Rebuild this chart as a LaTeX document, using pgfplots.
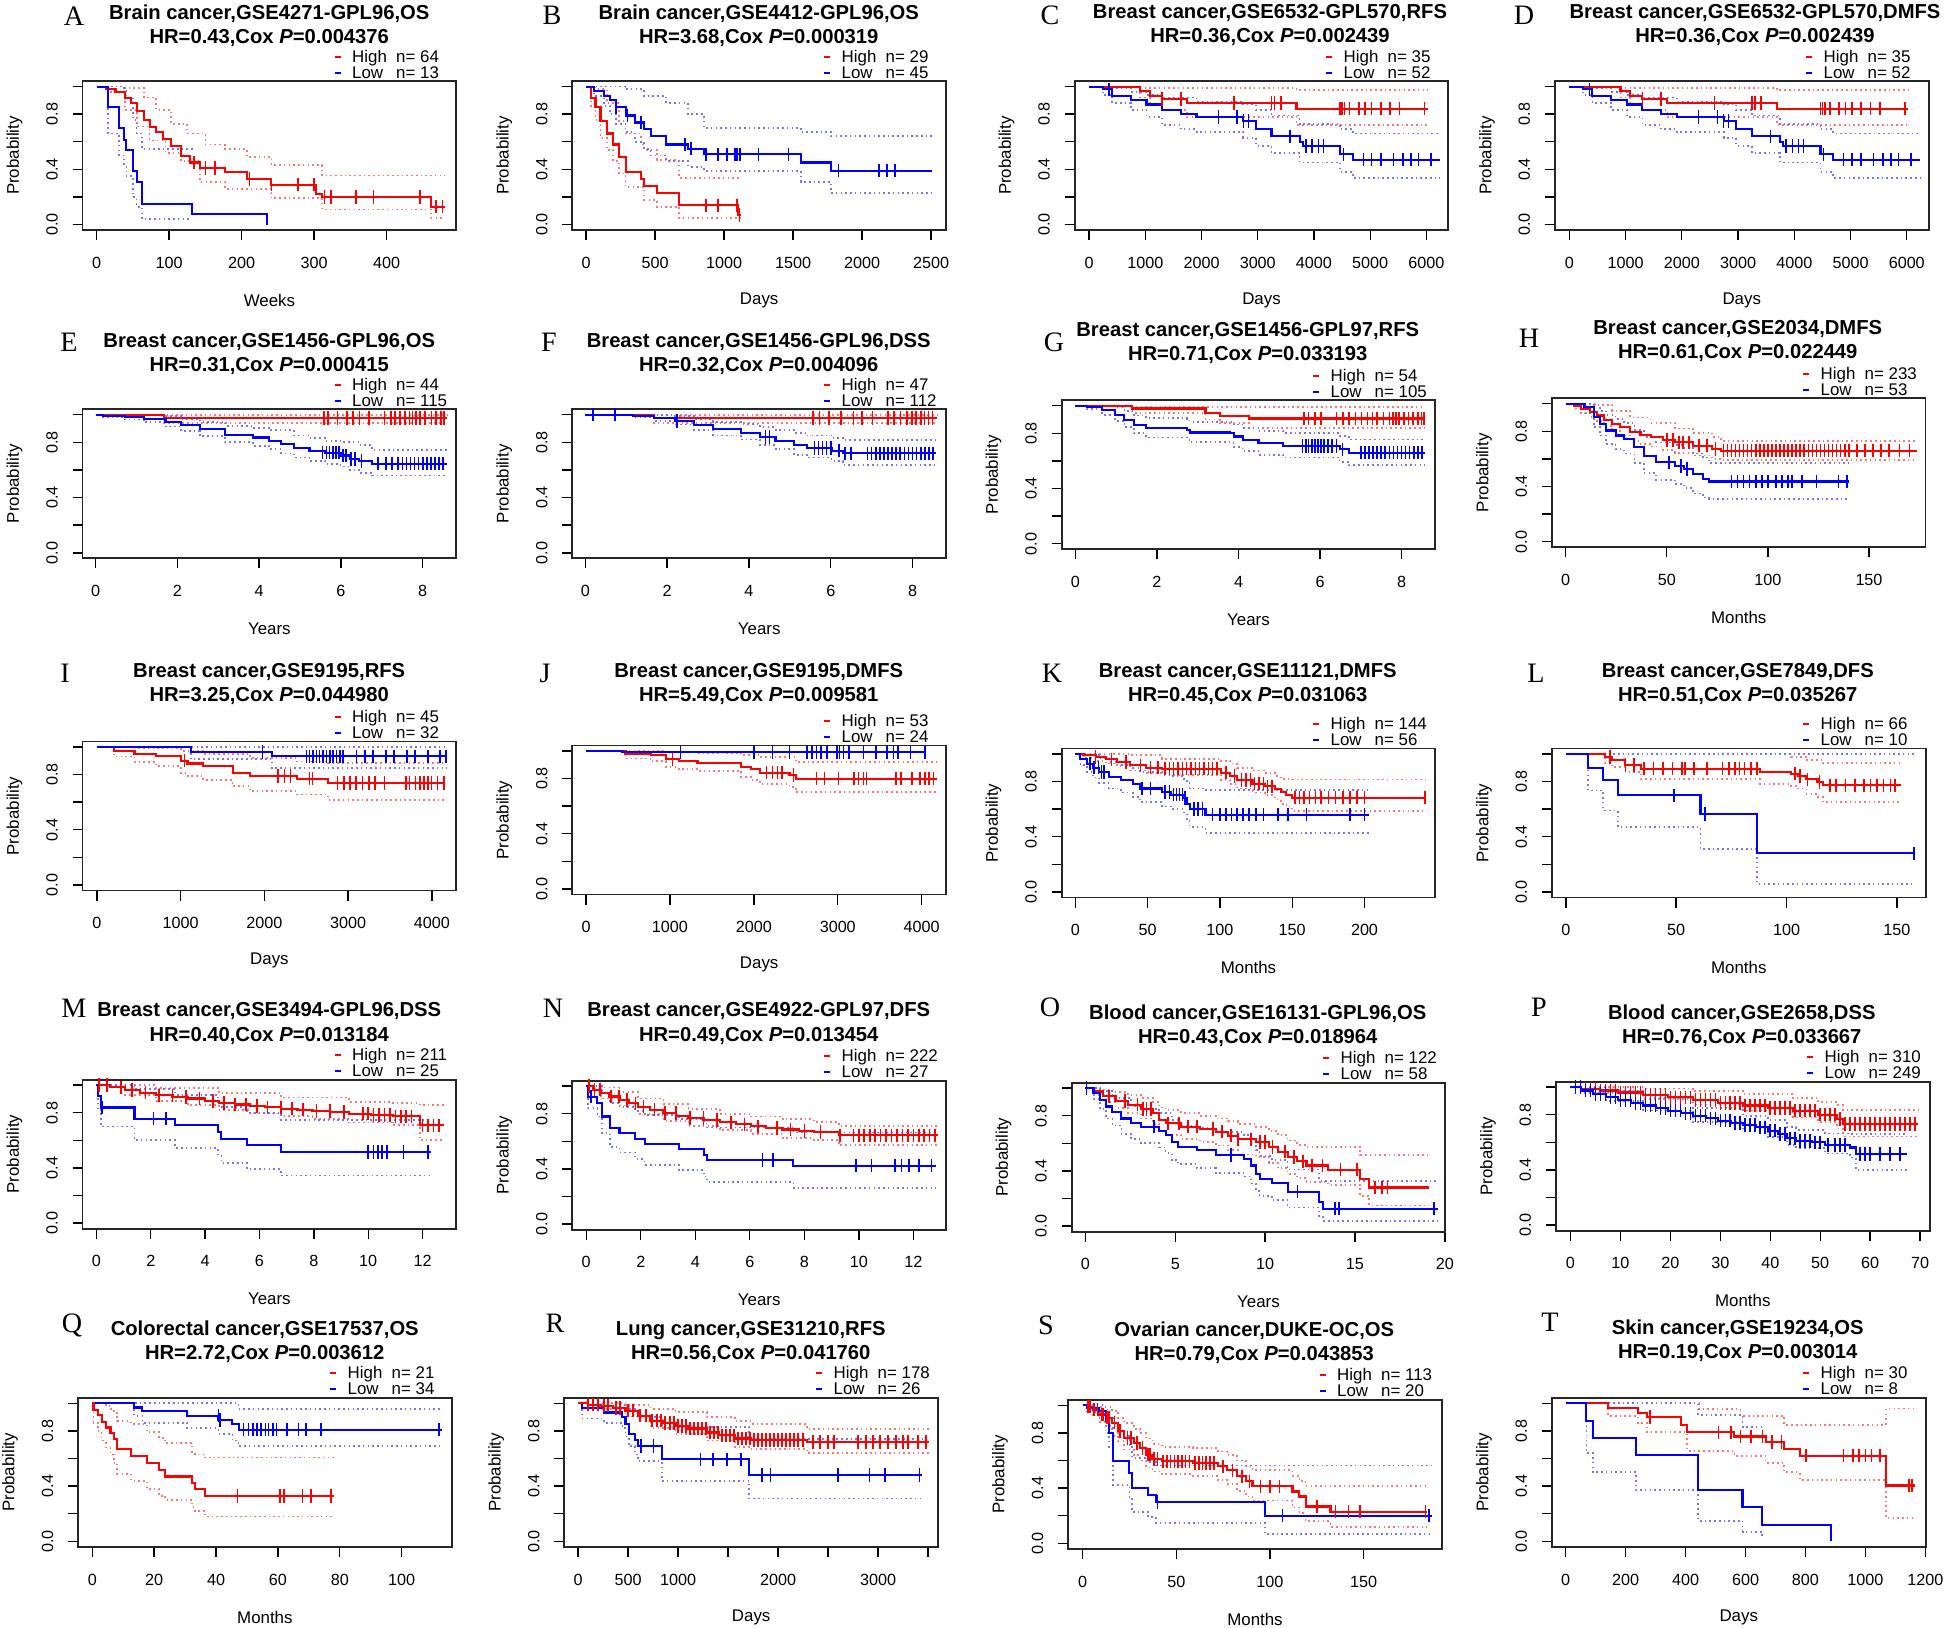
\documentclass[border=0pt]{standalone}
\usepackage{fontspec}
\setmainfont{Liberation Sans}
\newfontfamily\letterfont{Liberation Serif}
\usepackage{pgfplots}
\pgfplotsset{compat=1.18}

\newcommand{\fs}[1]{\fontsize{#1}{#1}\selectfont}
\newcommand{\tf}{\fs{5.75}\bfseries}
\newcommand{\lgf}{\fs{4.8}}
\newcommand{\lef}{\letterfont\fs{8}}

\pgfplotsset{
  /pgf/number format/assume math mode=true,
  /pgf/number format/1000 sep={},
  km/.style={
    scale only axis, width=3.735cm, height=1.49cm, anchor=north west,
    ymin=-0.04, ymax=1.04,
    ytick={0,0.2,0.4,0.6,0.8,1}, yticklabels={0.0,,0.4,,0.8,},
    tick pos=left, tick align=outside, major tick length=0.1cm,
    every tick/.style={black, line width=0.4pt},
    axis line style={line width=0.5pt, black!85},
    scaled x ticks=false,
    tick label style={font=\fs{4.6}},
    xticklabel style={inner ysep=4.6pt},
    yticklabel style={rotate=90, anchor=south, inner ysep=4pt},
    ylabel={Probability},
    xlabel style={at={(axis description cs:0.5,-0.47)}, anchor=center, font=\fs{4.8}},
    ylabel style={at={(axis description cs:-0.182,0.5)}, anchor=center, font=\fs{4.8}},
  },
  hr/.style={red, line width=0.6pt, const plot, mark=none},
  lb/.style={blue, line width=0.6pt, const plot, mark=none},
  hrc/.style={red!55, line width=0.5pt, dash pattern=on 0.45pt off 0.9pt, const plot, mark=none},
  lbc/.style={blue!55, line width=0.5pt, dash pattern=on 0.45pt off 0.9pt, const plot, mark=none},
  hrm/.style={red, only marks, mark=|, mark size=1.9pt, mark options={line width=0.45pt}},
  lbm/.style={blue, only marks, mark=|, mark size=1.9pt, mark options={line width=0.45pt}},
}

% title lines, centred on the box
\newcommand{\ttl}[4]{%
  \node[anchor=base, inner sep=0, font=\tf] at (#1,{#2+7}) {#3};
  \node[anchor=base, inner sep=0, font=\tf] at (#1,{#2+31}) {#4};}
% legend above the box, right side
\newcommand{\lgd}[4]{%
  \draw[red, line width=0.6pt] ({#1+252},{#2-24}) -- ++(6,0);
  \draw[blue, line width=0.6pt] ({#1+252},{#2-8}) -- ++(6,0);
  \node[anchor=base west, inner sep=0, font=\lgf] at ({#1+269},{#2-18.5}) {High};
  \node[anchor=base west, inner sep=0, font=\lgf] at ({#1+313},{#2-18.5}) {n= #3};
  \node[anchor=base west, inner sep=0, font=\lgf] at ({#1+269},{#2-2.5}) {Low};
  \node[anchor=base west, inner sep=0, font=\lgf] at ({#1+313},{#2-2.5}) {n= #4};}
\newcommand{\lab}[3]{\node[inner sep=0, font=\lef] at (#1,#2) {#3};}

\begin{document}
\begin{tikzpicture}[x=0.01cm, y=-0.01cm]
\path[use as bounding box] (0,0) rectangle (1960,1628);

%% A
\begin{axis}[km, at={(0.825cm,-0.81cm)}, xmin=-19.5, xmax=496, xtick={0,100,200,300,400}, xlabel={Weeks}]
\addplot[hrc] coordinates {(0,1)(39,0.99)(65,0.92)(82,0.83)(103,0.73)(125,0.66)(150,0.58)(177,0.55)(207,0.49)(241,0.43)(311,0.355)(480,0.355)};
\addplot[hrc] coordinates {(0,1)(17,0.96)(39,0.83)(56,0.71)(73,0.61)(95,0.52)(116,0.46)(142,0.31)(177,0.26)(241,0.19)(311,0.11)(461,0.05)(480,0.05)};
\addplot[lbc] coordinates {(0,1)(38,0.97)(41,0.92)(50,0.76)(55,0.66)(62,0.55)(134,0.55)};
\addplot[lbc] coordinates {(0,1)(16,0.66)(31,0.50)(38,0.42)(41,0.35)(50,0.20)(55,0.13)(62,0.04)(131,0.04)};
\addplot[hr] coordinates {(0,1)(13,0.98)(26,0.96)(39,0.92)(47,0.88)(56,0.82)(65,0.76)(73,0.71)(82,0.67)(92,0.62)(103,0.57)(116,0.50)(129,0.45)(142,0.41)(177,0.38)(207,0.33)(241,0.29)(302,0.22)(311,0.20)(461,0.13)(480,0.13)};
\addplot[lb] coordinates {(0,1)(16,0.85)(31,0.70)(38,0.61)(41,0.54)(50,0.39)(55,0.31)(62,0.15)(131,0.08)(235,0)};
\addplot[hrm] coordinates {(134,0.45)(150,0.41)(163,0.41)(211,0.33)(241,0.29)(278,0.29)(300,0.29)(314,0.20)(323,0.20)(358,0.20)(382,0.20)(446,0.20)(468,0.13)(477,0.13)};
\end{axis}
\lab{74}{16}{A}\ttl{269.25}{13}{Brain cancer,GSE4271-GPL96,OS}{HR=0.43,Cox \textit{P}=0.004376}\lgd{82.5}{81}{64}{13}

%% B
\begin{axis}[km, at={(5.72cm,-0.81cm)}, xmin=-100, xmax=2609, xtick={0,500,1000,1500,2000,2500}, xlabel={Days}]
\addplot[hrc] coordinates {(0,1)(68,0.98)(150,0.88)(240,0.75)(286,0.66)(399,0.58)(422,0.54)(513,0.47)(672,0.34)(1125,0.34)};
\addplot[hrc] coordinates {(0,1)(36,0.85)(68,0.76)(104,0.63)(150,0.54)(195,0.46)(240,0.37)(286,0.27)(422,0.18)(513,0.13)(672,0.05)(1125,0.05)};
\addplot[lbc] coordinates {(0,1)(286,0.98)(422,0.93)(581,0.88)(740,0.80)(853,0.70)(1556,0.67)(1774,0.64)(2510,0.64)};
\addplot[lbc] coordinates {(0,1)(59,0.93)(127,0.86)(172,0.80)(218,0.73)(286,0.67)(354,0.60)(422,0.55)(467,0.50)(581,0.46)(740,0.42)(853,0.39)(1556,0.31)(1774,0.23)(2510,0.23)};
\addplot[hr] coordinates {(0,1)(36,0.92)(68,0.85)(104,0.75)(150,0.66)(195,0.58)(240,0.49)(286,0.38)(399,0.33)(422,0.28)(513,0.23)(672,0.14)(1103,0.07)(1125,0.07)};
\addplot[lb] coordinates {(0,1)(59,0.97)(127,0.93)(172,0.90)(218,0.85)(286,0.79)(354,0.74)(422,0.69)(467,0.64)(581,0.58)(740,0.55)(853,0.51)(1556,0.45)(1774,0.39)(2510,0.39)};
\addplot[hrm] coordinates {(867,0.14)(957,0.14)(1093,0.14)(1112,0.07)};
\addplot[lbm] coordinates {(218,0.85)(299,0.79)(399,0.74)(717,0.58)(762,0.55)(867,0.51)(957,0.51)(1021,0.51)(1080,0.51)(1093,0.51)(1116,0.51)(1248,0.51)(1466,0.51)(1829,0.39)(2123,0.39)(2182,0.39)(2237,0.39)};
\end{axis}
\lab{552}{15}{B}\ttl{758.75}{13}{Brain cancer,GSE4412-GPL96,OS}{HR=3.68,Cox \textit{P}=0.000319}\lgd{572}{81}{29}{45}

%% C
\begin{axis}[km, at={(10.74cm,-0.81cm)}, xmin=-256, xmax=6389, xtick={0,1000,...,6000}, xlabel={Days}]
\addplot[hrc] coordinates {(0,1)(911,0.99)(3689,0.975)(6022,0.975)};
\addplot[hrc] coordinates {(0,1)(911,0.92)(1078,0.87)(1300,0.83)(1744,0.78)(3689,0.72)(6022,0.72)};
\addplot[lbc] coordinates {(0,1)(411,0.99)(744,0.96)(1022,0.94)(1300,0.92)(1911,0.89)(2744,0.87)(2967,0.83)(3244,0.79)(3744,0.73)(4467,0.69)(4689,0.66)(6244,0.66)};
\addplot[lbc] coordinates {(0,1)(244,0.94)(411,0.88)(744,0.83)(1022,0.78)(1300,0.72)(1633,0.69)(1911,0.67)(2744,0.63)(2967,0.57)(3244,0.52)(3744,0.45)(4467,0.38)(4689,0.34)(6244,0.34)};
\addplot[hr] coordinates {(0,1)(911,0.97)(1078,0.93)(1300,0.91)(1744,0.88)(3689,0.84)(6022,0.84)};
\addplot[lb] coordinates {(0,1)(244,0.98)(411,0.93)(744,0.90)(1022,0.87)(1300,0.83)(1633,0.80)(1911,0.78)(2744,0.75)(2967,0.69)(3244,0.64)(3744,0.60)(3800,0.57)(4467,0.51)(4689,0.47)(6244,0.47)};
\addplot[hrm] coordinates {(1300,0.91)(1633,0.91)(2578,0.88)(3244,0.88)(3300,0.88)(3411,0.88)(4467,0.84)(4500,0.84)(4544,0.84)(4633,0.84)(4800,0.84)(4911,0.84)(5022,0.84)(5189,0.84)(5356,0.84)(5522,0.84)(5967,0.84)};
\addplot[lbm] coordinates {(356,0.98)(2300,0.78)(2633,0.78)(2744,0.75)(2833,0.75)(3578,0.64)(3856,0.57)(3967,0.57)(4078,0.57)(4167,0.57)(4522,0.51)(4878,0.47)(5022,0.47)(5189,0.47)(5411,0.47)(5578,0.47)(5722,0.47)(5856,0.47)(6078,0.47)};
\end{axis}
\lab{1050}{15}{C}\ttl{1270}{12}{Breast cancer,GSE6532-GPL570,RFS}{HR=0.36,Cox \textit{P}=0.002439}\lgd{1074}{81}{35}{52}

%% D
\begin{axis}[km, at={(15.54cm,-0.81cm)}, xmin=-256, xmax=6389, xtick={0,1000,...,6000}, xlabel={Days}]
\addplot[hrc] coordinates {(0,1)(911,0.99)(3689,0.975)(6022,0.975)};
\addplot[hrc] coordinates {(0,1)(911,0.92)(1078,0.87)(1300,0.83)(1744,0.78)(3689,0.72)(6022,0.72)};
\addplot[lbc] coordinates {(0,1)(411,0.99)(744,0.96)(1022,0.94)(1300,0.92)(1911,0.89)(2744,0.87)(2967,0.83)(3244,0.79)(3744,0.73)(4467,0.69)(4689,0.66)(6244,0.66)};
\addplot[lbc] coordinates {(0,1)(244,0.94)(411,0.88)(744,0.83)(1022,0.78)(1300,0.72)(1633,0.69)(1911,0.67)(2744,0.63)(2967,0.57)(3244,0.52)(3744,0.45)(4467,0.38)(4689,0.34)(6244,0.34)};
\addplot[hr] coordinates {(0,1)(911,0.97)(1078,0.93)(1300,0.91)(1744,0.88)(3689,0.84)(6022,0.84)};
\addplot[lb] coordinates {(0,1)(244,0.98)(411,0.93)(744,0.90)(1022,0.87)(1300,0.83)(1633,0.80)(1911,0.78)(2744,0.75)(2967,0.69)(3244,0.64)(3744,0.60)(3800,0.57)(4467,0.51)(4689,0.47)(6244,0.47)};
\addplot[hrm] coordinates {(1300,0.91)(1633,0.91)(2578,0.88)(3244,0.88)(3300,0.88)(3411,0.88)(4467,0.84)(4500,0.84)(4544,0.84)(4633,0.84)(4800,0.84)(4911,0.84)(5022,0.84)(5189,0.84)(5356,0.84)(5522,0.84)(5967,0.84)};
\addplot[lbm] coordinates {(356,0.98)(2300,0.78)(2633,0.78)(2744,0.75)(2833,0.75)(3578,0.64)(3856,0.57)(3967,0.57)(4078,0.57)(4167,0.57)(4522,0.51)(4878,0.47)(5022,0.47)(5189,0.47)(5411,0.47)(5578,0.47)(5722,0.47)(5856,0.47)(6078,0.47)};
\end{axis}
\lab{1524}{15}{D}\ttl{1755}{12}{Breast cancer,GSE6532-GPL570,DMFS}{HR=0.36,Cox \textit{P}=0.002439}\lgd{1554}{81}{35}{52}

%% E
\begin{axis}[km, at={(0.825cm,-4.09cm)}, xmin=-0.32, xmax=8.82, xtick={0,2,4,6,8}, xlabel={Years}]
\addplot[hrc] coordinates {(0,1)(8.6,1)};
\addplot[hrc] coordinates {(0,1)(1.67,0.94)(8.6,0.94)};
\addplot[lbc] coordinates {(0,1)(1.71,0.99)(2.09,0.97)(2.55,0.95)(3.17,0.92)(3.85,0.905)(4.24,0.89)(4.85,0.85)(5.23,0.83)(5.61,0.81)(5.99,0.80)(6.45,0.78)(6.76,0.745)(8.6,0.745)};
\addplot[lbc] coordinates {(0,1)(0.18,0.98)(0.72,0.965)(1.18,0.945)(1.71,0.915)(2.09,0.885)(2.55,0.845)(3.17,0.80)(3.85,0.775)(4.24,0.75)(4.54,0.72)(4.85,0.69)(5.23,0.665)(5.61,0.645)(5.99,0.625)(6.22,0.60)(6.45,0.58)(6.76,0.56)(8.6,0.56)};
\addplot[hr] coordinates {(0,1)(1.67,0.976)(8.6,0.976)};
\addplot[lb] coordinates {(0,1)(0.18,0.99)(0.72,0.985)(1.18,0.97)(1.71,0.95)(2.09,0.925)(2.55,0.895)(3.17,0.855)(3.85,0.835)(4.24,0.81)(4.54,0.785)(4.85,0.76)(5.23,0.74)(5.61,0.725)(5.99,0.705)(6.22,0.68)(6.45,0.665)(6.76,0.645)(8.6,0.645)};
\addplot[hrm] coordinates {(5.58,0.976)(5.69,0.976)(5.92,0.976)(6.15,0.976)(6.30,0.976)(6.45,0.976)(6.68,0.976)(7.06,0.976)(7.22,0.976)(7.32,0.976)(7.45,0.976)(7.57,0.976)(7.68,0.976)(7.75,0.976)(7.83,0.976)(7.94,0.976)(8.06,0.976)(8.21,0.976)(8.33,0.976)(8.44,0.976)(8.52,0.976)};
\addplot[lbm] coordinates {(5.55,0.725)(5.65,0.725)(5.72,0.725)(5.8,0.725)(5.88,0.725)(5.95,0.725)(6.05,0.705)(6.12,0.705)(6.25,0.68)(6.35,0.68)(6.5,0.665)(6.9,0.645)(7.1,0.645)(7.25,0.645)(7.4,0.645)(7.5,0.645)(7.6,0.645)(7.7,0.645)(7.8,0.645)(7.9,0.645)(8.0,0.645)(8.1,0.645)(8.2,0.645)(8.3,0.645)(8.4,0.645)(8.5,0.645)};
\end{axis}
\lab{69}{342}{E}\ttl{269.25}{341}{Breast cancer,GSE1456-GPL96,OS}{HR=0.31,Cox \textit{P}=0.000415}\lgd{82.5}{409}{44}{115}

%% F
\begin{axis}[km, at={(5.72cm,-4.09cm)}, xmin=-0.32, xmax=8.82, xtick={0,2,4,6,8}, xlabel={Years}]
\addplot[hrc] coordinates {(0,1)(8.6,1)};
\addplot[hrc] coordinates {(0,1)(1.68,0.94)(8.6,0.94)};
\addplot[lbc] coordinates {(0,1)(2.2,0.99)(2.66,0.97)(3.12,0.95)(3.8,0.935)(4.27,0.91)(4.65,0.89)(5.1,0.87)(5.41,0.85)(6.02,0.83)(6.3,0.815)(8.58,0.815)};
\addplot[lbc] coordinates {(0,1)(1.16,0.98)(1.67,0.955)(2.2,0.93)(2.66,0.89)(3.12,0.85)(3.8,0.82)(4.27,0.78)(4.65,0.75)(5.1,0.71)(5.41,0.69)(6.02,0.665)(6.3,0.635)(8.58,0.635)};
\addplot[hr] coordinates {(0,1)(1.68,0.976)(8.6,0.976)};
\addplot[lb] coordinates {(0,1)(1.16,0.99)(1.67,0.975)(2.2,0.955)(2.66,0.925)(3.12,0.895)(3.8,0.87)(4.27,0.84)(4.65,0.81)(5.1,0.78)(5.41,0.76)(6.02,0.74)(6.3,0.72)(8.58,0.72)};
\addplot[hrm] coordinates {(5.57,0.976)(5.72,0.976)(5.95,0.976)(6.25,0.976)(6.56,0.976)(6.76,0.976)(7.02,0.976)(7.40,0.976)(7.55,0.976)(7.71,0.976)(7.86,0.976)(7.98,0.976)(8.09,0.976)(8.20,0.976)(8.29,0.976)(8.39,0.976)(8.49,0.976)};
\addplot[lbm] coordinates {(0.18,1)(0.72,1)(2.24,0.955)(4.4,0.84)(4.5,0.84)(5.6,0.76)(5.7,0.76)(5.8,0.76)(5.9,0.76)(6.0,0.76)(6.2,0.74)(6.35,0.72)(6.5,0.72)(6.9,0.72)(7.0,0.72)(7.1,0.72)(7.2,0.72)(7.3,0.72)(7.4,0.72)(7.5,0.72)(7.6,0.72)(7.7,0.72)(7.8,0.72)(7.9,0.72)(8.0,0.72)(8.1,0.72)(8.2,0.72)(8.3,0.72)(8.4,0.72)(8.5,0.72)};
\end{axis}
\lab{549}{342}{F}\ttl{758.75}{341}{Breast cancer,GSE1456-GPL96,DSS}{HR=0.32,Cox \textit{P}=0.004096}\lgd{572}{409}{47}{112}

%% G
\begin{axis}[km, at={(10.61cm,-4.00cm)}, xmin=-0.34, xmax=8.83, xtick={0,2,4,6,8}, xlabel={Years}]
\addplot[hrc] coordinates {(0,1)(1.39,0.99)(8.58,0.99)};
\addplot[hrc] coordinates {(0,1)(1.39,0.95)(3.19,0.90)(3.54,0.875)(4.26,0.84)(8.58,0.84)};
\addplot[lbc] coordinates {(0,1)(0.97,0.99)(1.2,0.96)(1.43,0.93)(1.73,0.91)(2.73,0.90)(2.8,0.885)(3.88,0.865)(4.1,0.84)(4.49,0.815)(5.1,0.80)(6.48,0.78)(6.71,0.755)(8.58,0.755)};
\addplot[lbc] coordinates {(0,1)(0.28,0.975)(0.66,0.935)(0.97,0.89)(1.2,0.845)(1.43,0.80)(1.73,0.77)(2.73,0.755)(2.8,0.735)(3.88,0.70)(4.1,0.67)(4.49,0.645)(5.1,0.625)(6.48,0.595)(6.71,0.57)(8.58,0.57)};
\addplot[hr] coordinates {(0,1)(1.39,0.98)(3.19,0.947)(3.54,0.927)(4.26,0.908)(8.58,0.908)};
\addplot[lb] coordinates {(0,1)(0.28,0.99)(0.66,0.966)(0.97,0.934)(1.2,0.898)(1.43,0.862)(1.73,0.837)(2.73,0.825)(2.8,0.806)(3.8,0.80)(3.88,0.777)(4.1,0.752)(4.49,0.728)(5.1,0.709)(6.48,0.684)(6.71,0.66)(8.58,0.66)};
\addplot[hrm] coordinates {(5.61,0.908)(5.72,0.908)(5.87,0.908)(6.02,0.908)(6.40,0.908)(6.56,0.908)(6.71,0.908)(6.87,0.908)(7.02,0.908)(7.17,0.908)(7.29,0.908)(7.40,0.908)(7.56,0.908)(7.71,0.908)(7.79,0.908)(7.86,0.908)(7.94,0.908)(8.06,0.908)(8.17,0.908)(8.28,0.908)(8.40,0.908)(8.49,0.908)(8.55,0.908)};
\addplot[lbm] coordinates {(5.57,0.709)(5.65,0.709)(5.72,0.709)(5.8,0.709)(5.87,0.709)(5.95,0.709)(6.02,0.709)(6.1,0.709)(6.2,0.709)(6.3,0.709)(6.4,0.709)(6.55,0.684)(7.0,0.66)(7.1,0.66)(7.2,0.66)(7.3,0.66)(7.4,0.66)(7.5,0.66)(7.6,0.66)(7.7,0.66)(7.8,0.66)(7.9,0.66)(8.0,0.66)(8.1,0.66)(8.2,0.66)(8.3,0.66)(8.4,0.66)(8.5,0.66)};
\end{axis}
\lab{1054}{342}{G}\ttl{1247.75}{330}{Breast cancer,GSE1456-GPL97,RFS}{HR=0.71,Cox \textit{P}=0.033193}\lgd{1061}{400}{54}{105}

%% H
\begin{axis}[km, at={(15.51cm,-3.98cm)}, xmin=-6.8, xmax=178, xtick={0,50,100,150}, xlabel={Months}]
\addplot[hrc] coordinates {(0,1)(15.4,0.99)(23,0.95)(32,0.90)(42,0.86)(54,0.82)(63,0.79)(72.5,0.76)(77,0.73)(173.5,0.73)};
\addplot[hrc] coordinates {(0,1)(4,0.965)(7.7,0.935)(12,0.905)(15.4,0.875)(19,0.84)(23,0.80)(27,0.77)(32,0.73)(37,0.71)(42,0.69)(48,0.665)(54,0.645)(63,0.625)(72.5,0.60)(77,0.59)(173.5,0.59)};
\addplot[lbc] coordinates {(0,1)(13.9,0.99)(17,0.95)(20,0.92)(24.7,0.89)(29,0.86)(34,0.81)(38.6,0.76)(44.8,0.72)(54,0.70)(58.6,0.68)(63,0.64)(68,0.61)(71,0.57)(140,0.57)};
\addplot[lbc] coordinates {(0,1)(9.3,0.93)(13.9,0.83)(17,0.77)(20,0.71)(24.7,0.67)(29,0.64)(34,0.57)(38.6,0.50)(44.8,0.45)(54,0.42)(58.6,0.39)(63,0.35)(68,0.32)(71,0.31)(140,0.31)};
\addplot[hr] coordinates {(0,1)(4,0.985)(7.7,0.964)(12,0.94)(15.4,0.915)(19,0.885)(23,0.854)(27,0.83)(32,0.794)(37,0.775)(42,0.757)(48,0.738)(54,0.72)(63,0.697)(72.5,0.672)(77,0.66)(173.5,0.66)};
\addplot[lb] coordinates {(0,1)(9.3,0.976)(13.9,0.903)(17,0.854)(20,0.806)(24.7,0.77)(29,0.745)(34,0.684)(38.6,0.624)(44.8,0.575)(54,0.55)(58.6,0.527)(63,0.49)(68,0.454)(71,0.437)(140,0.437)};
\addplot[hrm] coordinates {(50,0.738)(53,0.738)(56,0.72)(58,0.72)(61,0.72)(66,0.697)(70,0.697)(74,0.672)(78,0.66)(80,0.66)(82,0.66)(84,0.66)(86,0.66)(88,0.66)(90,0.66)(92,0.66)(94,0.66)(96,0.66)(98,0.66)(100,0.66)(102,0.66)(104,0.66)(106,0.66)(108,0.66)(110,0.66)(112,0.66)(114,0.66)(116,0.66)(118,0.66)(120,0.66)(122,0.66)(124,0.66)(126,0.66)(128,0.66)(130,0.66)(132,0.66)(134,0.66)(136,0.66)(138,0.66)(140,0.66)(144,0.66)(148,0.66)(152,0.66)(156,0.66)(160,0.66)(165,0.66)(170,0.66)};
\addplot[lbm] coordinates {(51,0.575)(57,0.55)(60,0.527)(82,0.437)(85,0.437)(88,0.437)(91,0.437)(94,0.437)(97,0.437)(100,0.437)(104,0.437)(107,0.437)(110,0.437)(112,0.437)(117,0.437)(124,0.437)(135,0.437)(139,0.437)};
\end{axis}
\lab{1529}{338}{H}\ttl{1737.75}{328}{Breast cancer,GSE2034,DMFS}{HR=0.61,Cox \textit{P}=0.022449}\lgd{1551}{398}{233}{53}

%% I
\begin{axis}[km, at={(0.825cm,-7.41cm)}, xmin=-172, xmax=4291, xtick={0,1000,...,4000}, xlabel={Days}]
\addplot[lbc] coordinates {(0,1)(4180,1)};
\addplot[lbc] coordinates {(0,1)(1119,0.91)(2090,0.848)(4180,0.848)};
\addplot[hrc] coordinates {(0,1)(448,0.99)(1007,0.97)(1269,0.95)(1828,0.92)(2388,0.895)(2761,0.885)(4150,0.885)};
\addplot[hrc] coordinates {(0,1)(201,0.93)(448,0.89)(709,0.86)(1007,0.81)(1082,0.79)(1269,0.76)(1620,0.716)(1828,0.68)(2388,0.655)(2761,0.614)(4150,0.614)};
\addplot[hr] coordinates {(0,1)(201,0.97)(448,0.95)(709,0.935)(1007,0.90)(1082,0.88)(1269,0.86)(1620,0.81)(1828,0.79)(2388,0.77)(2761,0.74)(4150,0.74)};
\addplot[lb] coordinates {(0,1)(1119,0.964)(2090,0.933)(4180,0.933)};
\addplot[hrm] coordinates {(1045,0.90)(2164,0.79)(2239,0.79)(2313,0.79)(2537,0.77)(2575,0.77)(2873,0.74)(2948,0.74)(3022,0.74)(3097,0.74)(3172,0.74)(3246,0.74)(3321,0.74)(3433,0.74)(3694,0.74)(3731,0.74)(3806,0.74)(3858,0.74)(3903,0.74)(3955,0.74)(3993,0.74)(4067,0.74)(4142,0.74)};
\addplot[lbm] coordinates {(1978,0.964)(2500,0.933)(2540,0.933)(2580,0.933)(2620,0.933)(2660,0.933)(2700,0.933)(2740,0.933)(2780,0.933)(2820,0.933)(2860,0.933)(2900,0.933)(2940,0.933)(3100,0.933)(3200,0.933)(3300,0.933)(3450,0.933)(3550,0.933)(3700,0.933)(3800,0.933)(3950,0.933)(4100,0.933)(4170,0.933)};
\end{axis}
\lab{65}{673}{I}\ttl{269.25}{671}{Breast cancer,GSE9195,RFS}{HR=3.25,Cox \textit{P}=0.044980}\lgd{82.5}{741}{45}{32}

%% J
\begin{axis}[km, at={(5.72cm,-7.45cm)}, xmin=-164, xmax=4291, xtick={0,1000,...,4000}, xlabel={Days}]
\addplot[hrc] coordinates {(0,1)(955,0.99)(1328,0.985)(1851,0.97)(2075,0.955)(2500,0.92)(4180,0.92)};
\addplot[hrc] coordinates {(0,1)(470,0.945)(769,0.925)(955,0.885)(1104,0.87)(1328,0.855)(1851,0.81)(1963,0.79)(2075,0.76)(2425,0.74)(2500,0.70)(4180,0.70)};
\addplot[hr] coordinates {(0,1)(470,0.98)(769,0.968)(955,0.94)(1104,0.927)(1328,0.915)(1851,0.883)(1963,0.867)(2075,0.842)(2425,0.825)(2500,0.80)(4180,0.80)};
\addplot[lb] coordinates {(0,1)(433,0.99)(4052,0.99)};
\addplot[hrm] coordinates {(1030,0.94)(2149,0.842)(2224,0.842)(2284,0.842)(2336,0.842)(2470,0.825)(2746,0.80)(2843,0.80)(3007,0.80)(3194,0.80)(3246,0.80)(3306,0.80)(3343,0.80)(3694,0.80)(3754,0.80)(3888,0.80)(3978,0.80)(4037,0.80)(4090,0.80)(4142,0.80)};
\addplot[lbm] coordinates {(1127,0.99)(2000,0.99)(2224,0.99)(2425,0.99)(2634,0.99)(2694,0.99)(2746,0.99)(2798,0.99)(2873,0.99)(2993,0.99)(3022,0.99)(3067,0.99)(3134,0.99)(3306,0.99)(3455,0.99)(3590,0.99)(3664,0.99)(3716,0.99)(3866,0.99)(4037,0.99)};
\end{axis}
\lab{545}{673}{J}\ttl{758.75}{671}{Breast cancer,GSE9195,DMFS}{HR=5.49,Cox \textit{P}=0.009581}\lgd{572}{745}{53}{24}

%% K
\begin{axis}[km, at={(10.61cm,-7.48cm)}, xmin=-9.5, xmax=249, xtick={0,50,100,150,200}, xlabel={Months}]
\addplot[hrc] coordinates {(0,1)(38,0.99)(60,0.965)(101,0.95)(107,0.93)(112,0.90)(122.5,0.88)(131,0.86)(138,0.84)(142,0.82)(150,0.815)(242,0.815)};
\addplot[hrc] coordinates {(0,1)(5.6,0.97)(14,0.95)(21,0.93)(29,0.91)(38,0.88)(49,0.86)(60,0.85)(101,0.81)(107,0.78)(112,0.75)(122.5,0.72)(131,0.70)(138,0.67)(142,0.64)(146,0.62)(150,0.587)(242,0.587)};
\addplot[lbc] coordinates {(0,1)(12,0.99)(16.5,0.97)(23,0.94)(31.6,0.92)(40,0.90)(44.6,0.87)(60,0.85)(66,0.84)(75,0.82)(77,0.79)(79,0.75)(90,0.737)(203,0.737)};
\addplot[lbc] coordinates {(0,1)(3.5,0.92)(7.8,0.87)(12,0.83)(16.5,0.79)(23,0.75)(31.6,0.72)(40,0.69)(44.6,0.65)(60,0.62)(66,0.60)(75,0.57)(77,0.52)(79,0.47)(90,0.43)(203,0.43)};
\addplot[hr] coordinates {(0,1)(5.6,0.99)(14,0.978)(21,0.961)(29,0.942)(38,0.918)(49,0.90)(60,0.894)(101,0.865)(107,0.84)(112,0.81)(122.5,0.785)(131,0.766)(138,0.749)(142,0.725)(146,0.70)(150,0.684)(242,0.684)};
\addplot[lb] coordinates {(0,1)(3.5,0.966)(7.8,0.93)(12,0.90)(16.5,0.87)(23,0.833)(31.6,0.81)(40,0.785)(44.6,0.75)(60,0.725)(66,0.705)(75,0.68)(77,0.64)(79,0.60)(90,0.56)(203,0.56)};
\addplot[hrm] coordinates {(14,0.978)(25,0.961)(35,0.942)(45,0.918)(52,0.90)(57,0.90)(62,0.894)(65,0.894)(68,0.894)(71,0.894)(74,0.894)(77,0.894)(80,0.894)(83,0.894)(86,0.894)(89,0.894)(92,0.894)(95,0.894)(98,0.894)(104,0.865)(110,0.84)(115,0.81)(118,0.81)(121,0.81)(124,0.785)(127,0.785)(130,0.785)(133,0.766)(136,0.766)(152,0.684)(155,0.684)(158,0.684)(162,0.684)(166,0.684)(170,0.684)(175,0.684)(180,0.684)(185,0.684)(190,0.684)(195,0.684)(200,0.684)(242,0.684)};
\addplot[lbm] coordinates {(10,0.93)(13,0.90)(16,0.90)(18,0.87)(20,0.87)(46,0.75)(52,0.75)(62,0.725)(65,0.725)(68,0.705)(70,0.705)(72,0.705)(74,0.705)(76,0.68)(82,0.60)(85,0.60)(88,0.60)(95,0.56)(100,0.56)(104,0.56)(108,0.56)(112,0.56)(116,0.56)(120,0.56)(125,0.56)(130,0.56)(140,0.56)(147,0.56)(160,0.56)(190,0.56)(200,0.56)};
\end{axis}
\lab{1052}{673}{K}\ttl{1247.75}{671}{Breast cancer,GSE11121,DMFS}{HR=0.45,Cox \textit{P}=0.031063}\lgd{1061}{748}{144}{56}

%% L
\begin{axis}[km, at={(15.51cm,-7.48cm)}, xmin=-6.3, xmax=163, xtick={0,50,100,150}, xlabel={Months}]
\addplot[hrc] coordinates {(0,1)(88,1)(102,0.98)(109,0.955)(116.5,0.934)(152,0.934)};
\addplot[hrc] coordinates {(0,1)(17.6,0.935)(21,0.905)(27,0.87)(34,0.82)(88,0.784)(102,0.77)(105,0.75)(109,0.71)(114,0.69)(116.5,0.65)(152,0.65)};
\addplot[lbc] coordinates {(0,1)(157.7,1)};
\addplot[lbc] coordinates {(0,1)(10,0.735)(17,0.59)(23.6,0.47)(61,0.31)(86.6,0.06)(157.7,0.06)};
\addplot[hr] coordinates {(0,1)(17.6,0.978)(21,0.954)(27,0.92)(34,0.893)(88,0.869)(102,0.857)(105,0.84)(109,0.816)(114,0.796)(116.5,0.772)(152,0.772)};
\addplot[lb] coordinates {(0,1)(10,0.90)(17,0.81)(23.6,0.70)(61,0.566)(86.6,0.28)(157.7,0.28)};
\addplot[hrm] coordinates {(20,0.978)(27,0.92)(31,0.92)(35.5,0.893)(39.8,0.893)(44,0.893)(48.3,0.893)(52.6,0.893)(54,0.893)(58,0.893)(63.9,0.893)(71,0.893)(74,0.893)(76.7,0.893)(78.7,0.893)(81,0.893)(83.8,0.893)(86.6,0.893)(103.7,0.857)(106,0.84)(109.5,0.816)(115,0.796)(119.6,0.772)(122.4,0.772)(126.7,0.772)(131,0.772)(135,0.772)(138,0.772)(141,0.772)(144,0.772)(147,0.772)(149,0.772)};
\addplot[lbm] coordinates {(49,0.70)(63,0.566)(157.7,0.28)};
\end{axis}
\lab{1536}{673}{L}\ttl{1737.75}{671}{Breast cancer,GSE7849,DFS}{HR=0.51,Cox \textit{P}=0.035267}\lgd{1551}{748}{66}{10}

%% M
\begin{axis}[km, at={(0.825cm,-10.79cm)}, xmin=-0.51, xmax=13.24, xtick={0,2,...,12}, xlabel={Years}]
\addplot[hrc] coordinates {(0,1)(2.2,0.98)(4.5,0.945)(6.8,0.91)(9.3,0.88)(10.9,0.87)(11.9,0.855)(12.8,0.855)};
\addplot[hrc] coordinates {(0,1)(1.06,0.93)(2.2,0.885)(3.36,0.855)(4.5,0.82)(5.65,0.795)(6.8,0.775)(7.95,0.755)(9.3,0.73)(10.9,0.71)(11.9,0.60)(12.8,0.60)};
\addplot[lbc] coordinates {(0,1)(1.4,0.97)(2.9,0.93)(4.46,0.88)(4.6,0.84)(5.54,0.80)(6.8,0.75)(12.3,0.75)};
\addplot[lbc] coordinates {(0,1)(0.05,0.82)(0.18,0.70)(1.4,0.60)(2.9,0.547)(4.46,0.49)(4.6,0.436)(5.54,0.39)(6.8,0.345)(12.3,0.345)};
\addplot[hr] coordinates {(0,1)(0.5,0.985)(1.06,0.964)(1.6,0.945)(2.2,0.927)(2.8,0.915)(3.36,0.903)(4,0.885)(4.5,0.872)(5.1,0.86)(5.65,0.85)(6.2,0.84)(6.8,0.83)(7.4,0.822)(7.95,0.814)(8.6,0.805)(9.3,0.794)(10.1,0.785)(10.9,0.775)(11.9,0.71)(12.8,0.71)};
\addplot[lb] coordinates {(0,1)(0.05,0.92)(0.18,0.838)(1.4,0.758)(2.9,0.71)(4.46,0.66)(4.6,0.61)(5.54,0.564)(6.8,0.516)(12.3,0.516)};
\addplot[hrm] coordinates {(0.1,1)(0.4,1)(0.9,0.985)(1.3,0.964)(1.8,0.945)(2.3,0.927)(2.8,0.927)(3.3,0.915)(3.8,0.903)(4.3,0.885)(4.7,0.872)(5.1,0.86)(5.5,0.86)(5.9,0.85)(6.3,0.84)(6.8,0.84)(7.2,0.83)(7.6,0.822)(8.1,0.814)(8.6,0.814)(9.1,0.805)(9.8,0.794)(10.0,0.794)(10.2,0.785)(10.4,0.785)(10.6,0.785)(10.8,0.785)(11.0,0.775)(11.2,0.775)(11.4,0.775)(11.6,0.775)(12.0,0.71)(12.2,0.71)(12.4,0.71)(12.6,0.71)};
\addplot[lbm] coordinates {(0.2,0.838)(2.1,0.758)(2.55,0.758)(10.0,0.516)(10.2,0.516)(10.35,0.516)(10.5,0.516)(10.7,0.516)(11.3,0.516)(12.2,0.516)};
\end{axis}
\lab{74}{1008}{M}\ttl{269.25}{1010}{Breast cancer,GSE3494-GPL96,DSS}{HR=0.40,Cox \textit{P}=0.013184}\lgd{82.5}{1079}{211}{25}

%% N
\begin{axis}[km, at={(5.72cm,-10.80cm)}, xmin=-0.51, xmax=13.2, xtick={0,2,...,12}, xlabel={Years}]
\addplot[hrc] coordinates {(0,1)(0.53,0.99)(1.22,0.955)(1.9,0.91)(2.83,0.87)(3.75,0.835)(4.9,0.80)(6.05,0.78)(7.2,0.76)(8.35,0.74)(9.26,0.71)(12.9,0.71)};
\addplot[hrc] coordinates {(0,1)(0.53,0.91)(1.22,0.86)(1.9,0.80)(2.83,0.75)(3.75,0.71)(4.9,0.68)(6.05,0.655)(7.2,0.625)(8.35,0.61)(9.26,0.571)(12.9,0.571)};
\addplot[lbc] coordinates {(0,1)(0.57,0.95)(0.87,0.88)(1.22,0.85)(1.8,0.82)(2.14,0.79)(3.4,0.76)(4.32,0.73)(4.44,0.70)(7.6,0.665)(12.83,0.665)};
\addplot[lbc] coordinates {(0,1)(0.07,0.84)(0.41,0.78)(0.57,0.66)(0.87,0.56)(1.22,0.52)(1.8,0.47)(2.14,0.43)(3.4,0.39)(4.32,0.345)(4.44,0.305)(7.6,0.262)(12.83,0.262)};
\addplot[hr] coordinates {(0,1)(0.25,0.975)(0.53,0.948)(0.85,0.925)(1.22,0.90)(1.55,0.876)(1.9,0.852)(2.35,0.83)(2.83,0.805)(3.3,0.786)(3.75,0.769)(4.3,0.754)(4.9,0.738)(5.5,0.724)(6.05,0.71)(6.6,0.698)(7.2,0.686)(7.8,0.676)(8.35,0.667)(9.26,0.643)(12.9,0.643)};
\addplot[lb] coordinates {(0,1)(0.07,0.924)(0.41,0.876)(0.57,0.78)(0.87,0.70)(1.22,0.66)(1.8,0.62)(2.14,0.583)(3.4,0.543)(4.32,0.50)(4.44,0.464)(7.6,0.424)(12.83,0.424)};
\addplot[hrm] coordinates {(0.1,1)(0.3,0.975)(0.5,0.975)(0.9,0.925)(1.2,0.925)(1.5,0.90)(1.8,0.876)(2.1,0.852)(2.5,0.83)(2.9,0.805)(3.3,0.805)(3.8,0.769)(4.3,0.769)(4.8,0.754)(5.3,0.738)(5.8,0.724)(6.3,0.71)(7.0,0.698)(7.5,0.686)(8.0,0.676)(8.6,0.667)(9.3,0.643)(9.8,0.643)(10.0,0.643)(10.2,0.643)(10.4,0.643)(10.6,0.643)(10.8,0.643)(11.0,0.643)(11.2,0.643)(11.4,0.643)(11.6,0.643)(11.8,0.643)(12.0,0.643)(12.2,0.643)(12.4,0.643)(12.6,0.643)(12.8,0.643)};
\addplot[lbm] coordinates {(0.18,0.924)(6.46,0.464)(6.85,0.464)(9.9,0.424)(10.46,0.424)(11.33,0.424)(11.56,0.424)(11.84,0.424)(12.2,0.424)(12.67,0.424)};
\end{axis}
\lab{553}{1008}{N}\ttl{758.75}{1010}{Breast cancer,GSE4922-GPL97,DFS}{HR=0.49,Cox \textit{P}=0.013454}\lgd{572}{1080}{222}{27}

%% O
\begin{axis}[km, at={(10.71cm,-10.82cm)}, xmin=-0.77, xmax=20.03, xtick={0,5,...,20}, xlabel={Years}]
\addplot[hrc] coordinates {(0,1)(0.98,0.99)(1.67,0.97)(2.37,0.95)(3.07,0.93)(3.76,0.90)(4.1,0.86)(4.46,0.84)(5.33,0.82)(6.38,0.80)(7.25,0.78)(7.94,0.76)(8.47,0.74)(9.51,0.72)(10.2,0.69)(10.7,0.66)(11.25,0.62)(11.78,0.59)(12.3,0.575)(15.3,0.515)(19.1,0.515)};
\addplot[hrc] coordinates {(0,1)(0.45,0.95)(0.98,0.90)(1.67,0.855)(2.37,0.82)(3.07,0.78)(3.76,0.74)(4.1,0.69)(4.46,0.66)(5.33,0.63)(6.38,0.61)(7.25,0.585)(7.94,0.55)(8.47,0.52)(9.51,0.50)(10.2,0.46)(10.7,0.42)(11.25,0.38)(11.78,0.35)(12.3,0.32)(13.5,0.30)(15.3,0.22)(15.8,0.15)(19.1,0.15)};
\addplot[lbc] coordinates {(0,1)(0.8,0.98)(1.5,0.93)(2.54,0.87)(3.07,0.85)(4.1,0.82)(4.8,0.77)(5.16,0.73)(6.2,0.71)(7.25,0.68)(8.8,0.66)(9.23,0.61)(9.5,0.55)(9.69,0.51)(10.38,0.48)(11.25,0.41)(13.0,0.33)(19.6,0.33)};
\addplot[lbc] coordinates {(0,1)(0.45,0.92)(0.8,0.85)(1.15,0.78)(1.5,0.73)(2.0,0.67)(2.54,0.63)(3.07,0.60)(4.1,0.57)(4.46,0.53)(4.8,0.48)(5.16,0.45)(6.2,0.42)(7.25,0.385)(8.8,0.36)(9.23,0.31)(9.5,0.255)(9.69,0.22)(10.38,0.19)(11.25,0.135)(13.0,0.07)(13.2,0.04)(19.6,0.04)};
\addplot[hr] coordinates {(0,1)(0.45,0.976)(0.98,0.94)(1.67,0.908)(2.37,0.88)(3.07,0.85)(3.76,0.818)(4.1,0.77)(4.46,0.745)(5.33,0.72)(6.38,0.704)(7.25,0.684)(7.94,0.655)(8.47,0.63)(9.51,0.61)(10.2,0.575)(10.7,0.54)(11.25,0.50)(11.78,0.47)(12.3,0.44)(13.5,0.41)(15.3,0.34)(15.8,0.28)(19.1,0.28)};
\addplot[lb] coordinates {(0,1)(0.45,0.964)(0.8,0.915)(1.15,0.867)(1.5,0.825)(2.0,0.78)(2.54,0.745)(3.07,0.72)(4.1,0.69)(4.46,0.66)(4.8,0.61)(5.16,0.575)(6.2,0.55)(7.25,0.515)(8.8,0.49)(9.23,0.44)(9.5,0.38)(9.69,0.345)(10.38,0.31)(11.25,0.25)(13.0,0.175)(13.2,0.126)(19.6,0.126)};
\addplot[hrm] coordinates {(1.3,0.94)(2.2,0.908)(2.9,0.88)(3.2,0.85)(3.4,0.85)(3.66,0.85)(4.6,0.745)(5.2,0.745)(5.7,0.72)(6.2,0.72)(7.1,0.704)(7.6,0.684)(8.1,0.655)(8.5,0.63)(9.2,0.63)(9.7,0.61)(10.0,0.61)(10.4,0.575)(11.1,0.54)(11.6,0.50)(12.1,0.47)(12.6,0.44)(13.2,0.44)(14.2,0.41)(15.1,0.41)(16.1,0.28)(16.5,0.28)(16.8,0.28)};
\addplot[lbm] coordinates {(0.05,1)(3.8,0.72)(8.1,0.515)(11.8,0.25)(13.9,0.126)(14.1,0.126)(19.4,0.126)};
\end{axis}
\lab{1050}{1007}{O}\ttl{1257.75}{1012}{Blood cancer,GSE16131-GPL96,OS}{HR=0.43,Cox \textit{P}=0.018964}\lgd{1071}{1082}{122}{58}

%% P
\begin{axis}[km, at={(15.55cm,-10.81cm)}, xmin=-2.9, xmax=71.9, xtick={0,10,...,70}, xlabel={Months}]
\addplot[hrc] coordinates {(0,1)(14.6,0.99)(24.6,0.97)(34.6,0.95)(44.6,0.92)(49.6,0.89)(53.4,0.87)(54.6,0.835)(69.6,0.835)};
\addplot[hrc] coordinates {(0,1)(5.9,0.955)(14.6,0.915)(24.6,0.875)(34.6,0.83)(44.6,0.78)(49.6,0.745)(53.4,0.70)(54.6,0.643)(69.6,0.643)};
\addplot[lbc] coordinates {(0,1)(7.1,0.97)(14.6,0.92)(24.6,0.85)(34.6,0.79)(39.6,0.76)(43.4,0.71)(45.2,0.69)(50.9,0.665)(55.9,0.66)(67.4,0.66)};
\addplot[lbc] coordinates {(0,1)(2.1,0.96)(7.1,0.90)(14.6,0.83)(24.6,0.75)(34.6,0.68)(39.6,0.64)(43.4,0.58)(45.2,0.56)(50.9,0.52)(55.9,0.49)(57.1,0.40)(67.4,0.40)};
\addplot[hr] coordinates {(0,1)(2.1,0.988)(5.9,0.976)(9.6,0.961)(14.6,0.944)(19.6,0.927)(24.6,0.908)(29.6,0.886)(34.6,0.867)(39.6,0.85)(44.6,0.83)(49.6,0.80)(53.4,0.77)(54.6,0.733)(69.6,0.733)};
\addplot[lb] coordinates {(0,1)(2.1,0.976)(4.6,0.951)(7.1,0.927)(9.6,0.908)(12.1,0.883)(14.6,0.867)(17.1,0.85)(19.6,0.83)(22.1,0.81)(24.6,0.794)(27.1,0.774)(29.6,0.757)(32.1,0.74)(34.6,0.725)(37.1,0.709)(39.6,0.684)(41.5,0.66)(43.4,0.63)(45.2,0.61)(48.4,0.60)(50.9,0.58)(55.9,0.563)(57.1,0.515)(67.4,0.515)};
\addplot[hrm] coordinates {(1,1)(2,1)(3,0.988)(4,0.988)(5,0.988)(6,0.976)(7,0.976)(8,0.976)(9,0.976)(10,0.961)(11,0.961)(12,0.961)(13,0.961)(14,0.961)(15,0.944)(16,0.944)(17,0.944)(18,0.944)(19,0.944)(20,0.927)(21,0.927)(22,0.927)(23,0.927)(24,0.927)(25,0.908)(26,0.908)(27,0.908)(28,0.908)(29,0.908)(30,0.886)(31,0.886)(32,0.886)(33,0.886)(34,0.886)(35,0.867)(36,0.867)(37,0.867)(38,0.867)(39,0.867)(40,0.85)(41,0.85)(42,0.85)(43,0.85)(44,0.85)(45,0.83)(46,0.83)(47,0.83)(48,0.83)(49,0.83)(50,0.80)(51,0.80)(52,0.80)(53,0.80)(54,0.77)(55,0.733)(56,0.733)(57,0.733)(58,0.733)(59,0.733)(60,0.733)(61,0.733)(62,0.733)(63,0.733)(64,0.733)(65,0.733)(66,0.733)(67,0.733)(68,0.733)(69,0.733)};
\addplot[lbm] coordinates {(1,1)(2,1)(3,0.976)(4,0.976)(5,0.951)(6,0.951)(7,0.951)(8,0.927)(9,0.927)(10,0.908)(11,0.908)(12,0.908)(13,0.883)(14,0.883)(15,0.867)(16,0.867)(17,0.867)(18,0.85)(19,0.85)(20,0.83)(21,0.83)(22,0.83)(23,0.81)(24,0.81)(25,0.794)(26,0.794)(27,0.794)(28,0.774)(29,0.774)(30,0.757)(31,0.757)(32,0.757)(33,0.74)(34,0.74)(35,0.725)(36,0.725)(37,0.725)(38,0.709)(39,0.709)(40,0.684)(41,0.684)(42,0.66)(43,0.66)(44,0.63)(45,0.63)(46,0.61)(47,0.61)(48,0.61)(49,0.60)(50,0.60)(51.5,0.58)(53,0.58)(54,0.58)(55,0.58)(58,0.515)(59,0.515)(60,0.515)(62,0.515)(64,0.515)(66,0.515)};
\end{axis}
\lab{1539}{1007}{P}\ttl{1741.75}{1012}{Blood cancer,GSE2658,DSS}{HR=0.76,Cox \textit{P}=0.033667}\lgd{1555}{1081}{310}{249}

%% Q
\begin{axis}[km, at={(0.78cm,-13.97cm)}, xmin=-4.6, xmax=116.2, xtick={0,20,...,100}, xlabel={Months}]
\addplot[lbc] coordinates {(0,1)(47.3,0.96)(113,0.96)};
\addplot[lbc] coordinates {(0,1)(13.5,0.91)(16.2,0.86)(30.7,0.82)(40.8,0.78)(45.3,0.73)(47.3,0.69)(113,0.69)};
\addplot[hrc] coordinates {(0,1)(4.4,0.98)(5.9,0.96)(6.9,0.93)(8.1,0.87)(12.5,0.85)(17.6,0.79)(21.6,0.75)(23.6,0.71)(32.3,0.65)(33.1,0.63)(36.4,0.607)(78,0.607)};
\addplot[hrc] coordinates {(0,1)(0.4,0.86)(1.8,0.80)(3,0.73)(4.4,0.68)(5.9,0.63)(6.9,0.57)(8.1,0.49)(12.5,0.44)(17.6,0.38)(21.6,0.33)(23.6,0.30)(32.3,0.25)(33.1,0.22)(36.4,0.18)(78,0.18)};
\addplot[lb] coordinates {(0,1)(13.5,0.97)(16.2,0.942)(30.7,0.91)(40.8,0.88)(45.3,0.85)(47.3,0.81)(113,0.81)};
\addplot[hr] coordinates {(0,1)(0.4,0.954)(1.8,0.917)(3,0.866)(4.4,0.825)(5.9,0.788)(6.9,0.74)(8.1,0.667)(12.5,0.62)(17.6,0.57)(21.6,0.52)(23.6,0.47)(32.3,0.42)(33.1,0.38)(36.4,0.33)(78,0.33)};
\addplot[hrm] coordinates {(46.9,0.33)(60.6,0.33)(62,0.33)(68,0.33)(70.7,0.33)(77.2,0.33)};
\addplot[lbm] coordinates {(40.8,0.91)(41.2,0.88)(48.9,0.81)(50.5,0.81)(51.9,0.81)(53.3,0.81)(54.5,0.81)(56,0.81)(57,0.81)(58.4,0.81)(59.6,0.81)(63,0.81)(66.7,0.81)(69,0.81)(74,0.81)(112,0.81)};
\end{axis}
\lab{72}{1325}{Q}\ttl{264.75}{1328}{Colorectal cancer,GSE17537,OS}{HR=2.72,Cox \textit{P}=0.003612}\lgd{78}{1397}{21}{34}

%% R
\begin{axis}[km, at={(5.64cm,-13.97cm)}, xmin=-137, xmax=3600, xtick={0,500,...,3500}, xticklabels={0,500,1000,,2000,,3000,}, xlabel={Days}]
\addplot[lbc] coordinates {(0,1)(444,0.99)(506,0.96)(600,0.90)(837,0.83)(1713,0.74)(3444,0.74)};
\addplot[lbc] coordinates {(0,1)(37,0.89)(256,0.86)(444,0.82)(475,0.76)(506,0.69)(569,0.63)(600,0.58)(837,0.44)(1713,0.31)(3444,0.31)};
\addplot[hrc] coordinates {(0,1)(475,0.99)(725,0.96)(975,0.935)(1288,0.90)(1569,0.87)(1725,0.85)(2288,0.813)(3506,0.813)};
\addplot[hrc] coordinates {(0,1)(225,0.96)(475,0.905)(725,0.82)(975,0.78)(1288,0.73)(1569,0.685)(1725,0.67)(2288,0.64)(3506,0.64)};
\addplot[lb] coordinates {(0,1)(37,0.964)(256,0.934)(444,0.90)(475,0.85)(506,0.78)(569,0.735)(600,0.69)(837,0.595)(1713,0.48)(3444,0.48)};
\addplot[hr] coordinates {(0,1)(100,0.99)(225,0.983)(350,0.965)(475,0.947)(600,0.91)(725,0.874)(850,0.857)(975,0.837)(1100,0.818)(1288,0.789)(1413,0.769)(1569,0.745)(1725,0.735)(2288,0.72)(3506,0.72)};
\addplot[hrm] coordinates {(100,0.99)(150,0.99)(200,0.99)(260,0.983)(300,0.983)(380,0.965)(420,0.965)(500,0.947)(550,0.947)(620,0.91)(680,0.91)(740,0.874)(790,0.874)(830,0.874)(870,0.857)(920,0.857)(960,0.857)(1000,0.837)(1040,0.837)(1080,0.837)(1120,0.818)(1160,0.818)(1200,0.818)(1240,0.818)(1280,0.818)(1320,0.789)(1360,0.789)(1400,0.789)(1440,0.769)(1480,0.769)(1520,0.769)(1560,0.769)(1600,0.745)(1640,0.745)(1680,0.745)(1720,0.745)(1760,0.735)(1800,0.735)(1840,0.735)(1880,0.735)(1920,0.735)(1960,0.735)(2000,0.735)(2040,0.735)(2080,0.735)(2120,0.735)(2160,0.735)(2200,0.735)(2250,0.735)(2350,0.72)(2420,0.72)(2500,0.72)(2560,0.72)(2800,0.72)(2880,0.72)(2950,0.72)(3020,0.72)(3100,0.72)(3180,0.72)(3250,0.72)(3300,0.72)(3400,0.72)(3480,0.72)};
\addplot[lbm] coordinates {(631,0.69)(756,0.69)(1225,0.595)(1350,0.595)(1488,0.595)(1631,0.595)(1838,0.48)(1925,0.48)(2600,0.48)(2913,0.48)(3069,0.48)(3413,0.48)};
\end{axis}
\lab{555}{1323}{R}\ttl{750.75}{1328}{Lung cancer,GSE31210,RFS}{HR=0.56,Cox \textit{P}=0.041760}\lgd{564}{1397}{178}{26}

%% S
\begin{axis}[km, at={(10.675cm,-13.99cm)}, xmin=-7.7, xmax=191.7, xtick={0,50,100,150}, xlabel={Months}]
\addplot[hrc] coordinates {(0,1)(9,0.99)(15.7,0.96)(19,0.91)(22.3,0.87)(27.3,0.83)(30.7,0.80)(34,0.76)(37.3,0.72)(42.3,0.70)(59,0.69)(72.3,0.665)(77.3,0.64)(82.3,0.60)(87.3,0.56)(90.7,0.53)(112,0.49)(115.7,0.45)(119,0.417)(184,0.417)};
\addplot[hrc] coordinates {(0,1)(2.3,0.97)(5.7,0.93)(9,0.88)(12.3,0.85)(15.7,0.80)(19,0.74)(22.3,0.68)(27.3,0.64)(30.7,0.60)(34,0.55)(37.3,0.52)(42.3,0.50)(59,0.49)(72.3,0.46)(77.3,0.43)(82.3,0.38)(87.3,0.34)(90.7,0.31)(112,0.26)(115.7,0.22)(119,0.16)(132.3,0.12)(184,0.12)};
\addplot[lbc] coordinates {(0,1)(12.3,0.97)(14,0.91)(16.3,0.78)(25,0.70)(26.3,0.62)(35,0.59)(39,0.565)(186.3,0.565)};
\addplot[lbc] coordinates {(0,1)(2.3,0.95)(9,0.90)(12.3,0.80)(14,0.70)(16.3,0.425)(25,0.33)(26.3,0.23)(35,0.19)(39,0.15)(97.3,0.068)(186.3,0.068)};
\addplot[hr] coordinates {(0,1)(2.3,0.99)(5.7,0.97)(9,0.934)(12.3,0.91)(15.7,0.874)(19,0.813)(22.3,0.764)(27.3,0.728)(30.7,0.69)(34,0.643)(37.3,0.61)(42.3,0.595)(59,0.583)(72.3,0.558)(77.3,0.53)(82.3,0.485)(87.3,0.45)(90.7,0.413)(112,0.376)(115.7,0.34)(119,0.267)(132.3,0.23)(184,0.23)};
\addplot[lb] coordinates {(0,1)(2.3,0.983)(9,0.96)(12.3,0.886)(14,0.80)(16.3,0.60)(25,0.51)(26.3,0.40)(35,0.35)(39,0.30)(97.3,0.20)(186.3,0.20)};
\addplot[hrm] coordinates {(3,0.99)(4,0.99)(6,0.97)(8,0.97)(10,0.934)(11,0.934)(13,0.91)(14,0.91)(17,0.874)(20,0.813)(24,0.764)(26,0.764)(29,0.728)(32,0.69)(35,0.643)(36,0.643)(38,0.61)(40,0.61)(43,0.595)(45,0.595)(47,0.595)(49,0.595)(51,0.595)(53,0.595)(55,0.595)(57,0.595)(60,0.583)(62,0.583)(64,0.583)(66,0.583)(68,0.583)(70,0.583)(75,0.558)(80,0.53)(85,0.485)(89,0.45)(95,0.413)(100,0.413)(105,0.413)(125,0.267)(135,0.23)(142,0.23)(148,0.23)(183,0.23)};
\addplot[lbm] coordinates {(40,0.30)(106.7,0.20)(184.7,0.20)};
\end{axis}
\lab{1046}{1325}{S}\ttl{1254.25}{1329}{Ovarian cancer,DUKE-OC,OS}{HR=0.79,Cox \textit{P}=0.043853}\lgd{1067.5}{1399}{113}{20}

%% T
\begin{axis}[km, at={(15.51cm,-13.97cm)}, xmin=-46, xmax=1201, xtick={0,200,...,1200}, xlabel={Days}]
\addplot[hrc] coordinates {(0,1)(444,0.96)(583,0.91)(729,0.845)(1069,0.963)(1167,0.963)};
\addplot[hrc] coordinates {(0,1)(142,0.91)(240,0.86)(271,0.79)(406,0.655)(563,0.62)(667,0.57)(729,0.50)(781,0.444)(1069,0.17)(1167,0.17)};
\addplot[lbc] coordinates {(0,1)(442,0.915)(590,0.83)(656,0.83)};
\addplot[lbc] coordinates {(0,1)(69,0.64)(90,0.50)(235,0.37)(442,0.15)(590,0.07)(656,0.04)};
\addplot[hr] coordinates {(0,1)(142,0.966)(240,0.93)(271,0.90)(385,0.84)(406,0.79)(563,0.76)(667,0.72)(729,0.667)(781,0.62)(1069,0.405)(1167,0.405)};
\addplot[lb] coordinates {(0,1)(69,0.874)(90,0.752)(235,0.624)(442,0.371)(590,0.248)(656,0.121)(885,0)};
\addplot[hrm] coordinates {(281,0.90)(510,0.79)(552,0.79)(583,0.76)(619,0.76)(656,0.76)(688,0.72)(720,0.72)(802,0.62)(927,0.62)(958,0.62)(979,0.62)(1000,0.62)(1021,0.62)(1048,0.62)(1146,0.405)(1156,0.405)};
\end{axis}
\lab{1550}{1322}{T}\ttl{1737.75}{1327}{Skin cancer,GSE19234,OS}{HR=0.19,Cox \textit{P}=0.003014}\lgd{1551}{1397}{30}{8}

\end{tikzpicture}
\end{document}
